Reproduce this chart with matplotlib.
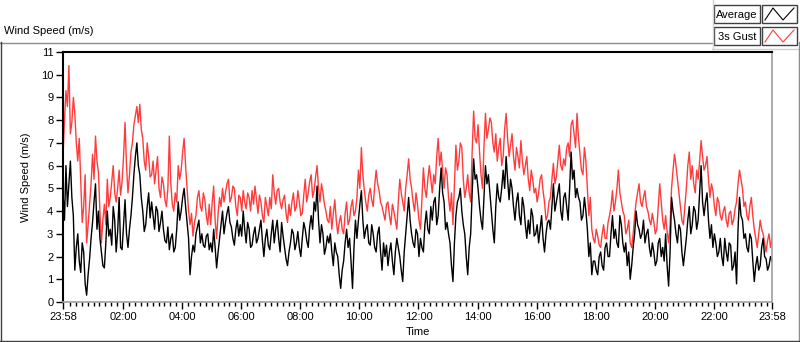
import numpy as np
import matplotlib
matplotlib.use('Agg')
import matplotlib.pyplot as plt
from matplotlib.patches import Rectangle

plt.rcParams['font.family'] = ['Liberation Sans', 'DejaVu Sans']

# 3-minute samples from 23:58 to 23:58 next day (one row per hour)
SAMPLE_MINUTES = 3

GUST = [
    6.4, 8.0, 9.3, 8.6, 10.4, 7.4, 7.9, 9.0, 8.3, 7.0, 6.2, 7.2, 5.4, 3.5, 4.2, 5.6, 2.6, 3.4, 4.3, 5.2,
    6.5, 5.4, 7.3, 6.2, 5.7, 4.0, 2.6, 3.6, 4.3, 3.4, 5.4, 4.2, 4.6, 5.3, 6.0, 4.8, 4.4, 5.0, 5.8, 4.7,
    5.3, 6.4, 7.9, 6.0, 4.8, 5.6, 6.6, 7.0, 7.8, 8.2, 8.6, 7.9, 8.7, 7.6, 7.2, 6.2, 5.8, 7.0, 6.4, 5.5,
    5.6, 6.2, 5.2, 5.8, 6.4, 5.0, 4.6, 5.5, 5.2, 4.5, 4.2, 5.0, 7.3, 5.2, 4.3, 4.0, 4.8, 4.4, 6.0, 5.4,
    5.8, 6.6, 7.2, 6.0, 5.0, 4.0, 3.4, 3.9, 2.9, 3.5, 3.8, 4.6, 4.9, 4.2, 4.0, 4.8, 4.5, 3.8, 3.4, 4.3,
    3.4, 4.4, 5.1, 3.6, 2.8, 3.9, 4.6, 4.2, 5.0, 4.4, 4.8, 5.2, 5.4, 4.4, 4.6, 5.1, 5.0, 4.2, 3.8, 4.7,
    4.6, 4.0, 4.9, 4.4, 4.1, 4.8, 4.6, 4.0, 4.9, 4.3, 5.1, 4.5, 3.9, 4.7, 4.4, 3.8, 3.5, 4.6, 4.2, 3.8,
    4.6, 4.1, 5.6, 4.8, 4.3, 4.9, 5.0, 4.4, 4.1, 4.5, 4.7, 3.9, 3.5, 4.3, 3.8, 4.4, 4.8, 4.0, 4.2, 4.9,
    4.4, 3.8, 3.9, 4.7, 5.4, 4.4, 4.8, 5.3, 5.6, 4.6, 4.9, 5.5, 6.0, 5.0, 4.4, 5.2, 4.8, 4.3, 4.0, 3.6,
    3.5, 4.2, 3.2, 3.9, 4.5, 3.6, 3.0, 3.5, 3.8, 3.2, 3.0, 3.9, 4.4, 3.4, 3.6, 4.2, 4.5, 3.8, 4.0, 4.6,
    5.8, 5.0, 6.8, 5.6, 4.9, 4.4, 4.0, 4.7, 5.0, 4.5, 4.2, 5.1, 5.8, 5.2, 4.9, 4.4, 4.2, 3.9, 3.6, 4.3,
    4.4, 3.8, 3.4, 4.3, 4.0, 3.6, 3.2, 4.4, 5.4, 4.8, 4.4, 4.0, 5.0, 5.6, 6.3, 5.4, 5.0, 4.4, 4.0, 4.8,
    4.3, 3.6, 3.2, 4.6, 5.9, 5.0, 4.6, 5.4, 6.0, 5.4, 4.8, 5.6, 5.2, 6.4, 7.2, 6.0, 6.6, 5.8, 5.0, 5.9,
    5.6, 4.6, 4.0, 4.8, 3.4, 5.2, 6.9, 5.8, 6.2, 7.0, 6.8, 5.4, 4.6, 5.0, 5.6, 4.8, 4.4, 6.6, 8.4, 7.2,
    7.0, 7.8, 6.6, 5.6, 5.0, 6.8, 8.3, 7.2, 7.6, 8.1, 7.9, 7.0, 6.6, 7.4, 6.2, 6.8, 7.2, 6.0, 6.4, 7.6,
    8.3, 7.2, 6.4, 6.9, 7.4, 6.4, 5.8, 6.8, 6.4, 5.9, 7.1, 6.2, 5.6, 6.0, 6.4, 5.4, 4.9, 5.8, 5.4, 4.8,
    5.0, 4.4, 4.8, 5.4, 5.6, 4.9, 4.4, 3.6, 3.8, 4.4, 4.6, 5.4, 6.1, 5.2, 5.5, 6.2, 6.9, 6.0, 5.8, 6.3,
    6.0, 6.8, 7.0, 6.4, 7.8, 8.0, 7.4, 6.8, 8.3, 7.2, 6.5, 5.8, 5.6, 6.8, 6.2, 5.0, 3.8, 4.6, 3.2, 2.8,
    2.6, 3.2, 2.9, 2.5, 2.4, 3.0, 3.4, 2.8, 2.8, 3.5, 3.8, 4.2, 4.9, 4.0, 4.4, 5.0, 5.8, 4.8, 4.4, 4.0,
    3.8, 3.0, 3.2, 3.6, 2.6, 2.4, 3.0, 3.8, 4.4, 4.8, 5.2, 4.4, 4.2, 4.6, 4.9, 4.2, 4.0, 3.6, 3.4, 3.9,
    3.5, 3.0, 3.2, 4.2, 5.2, 4.4, 3.6, 3.2, 3.8, 3.1, 2.6, 3.4, 5.0, 5.8, 6.5, 6.0, 5.4, 4.8, 4.2, 3.6,
    3.4, 4.2, 5.0, 6.0, 6.6, 5.4, 6.0, 5.2, 4.8, 5.8, 5.4, 6.2, 7.1, 6.4, 5.8, 6.0, 6.4, 5.4, 4.6, 5.2,
    4.9, 4.2, 3.8, 4.6, 4.4, 3.8, 3.6, 4.0, 4.2, 3.6, 3.3, 3.9, 4.0, 3.4, 3.6, 4.1, 4.4, 5.2, 5.8, 5.4,
    5.0, 4.2, 4.4, 3.8, 3.6, 4.2, 4.6, 3.8, 3.2, 2.8, 2.4, 3.0, 3.6, 3.2, 3.0, 2.6, 2.2, 2.7, 3.0, 2.4,
    2.8,
]

AVERAGE = [
    4.8, 3.6, 6.0, 4.2, 5.2, 6.2, 4.6, 3.8, 1.4, 2.4, 3.0, 1.8, 1.3, 2.6, 2.2, 0.8, 0.3, 1.2, 1.9, 2.8,
    3.5, 4.4, 5.2, 3.2, 4.0, 2.8, 2.2, 1.6, 1.5, 2.6, 4.0, 2.9, 3.2, 2.5, 4.2, 3.6, 2.2, 3.1, 4.6, 2.4,
    2.3, 3.4, 4.5, 3.0, 2.4, 3.2, 3.8, 4.6, 5.6, 6.4, 7.0, 6.0, 5.6, 4.6, 4.0, 3.1, 3.4, 4.2, 4.8, 3.7,
    4.4, 3.8, 3.2, 4.2, 4.0, 3.1, 3.5, 4.0, 3.2, 2.7, 2.6, 3.3, 2.3, 2.8, 3.0, 2.2, 2.4, 3.2, 4.4, 3.6,
    4.0, 4.6, 5.0, 4.2, 3.5, 2.8, 1.2, 2.0, 2.5, 2.2, 3.0, 3.3, 3.6, 2.6, 3.0, 2.5, 2.4, 2.9, 3.0, 2.3,
    2.6, 2.2, 3.2, 2.4, 1.5, 2.2, 2.8, 3.4, 4.0, 3.0, 3.5, 3.9, 4.2, 3.5, 3.3, 2.8, 2.5, 3.2, 3.6, 2.9,
    3.4, 2.9, 4.0, 3.2, 2.6, 3.5, 3.2, 2.4, 2.5, 3.0, 3.3, 2.6, 2.8, 3.2, 3.6, 2.7, 2.0, 2.8, 3.2, 2.5,
    2.3, 3.0, 3.6, 2.6, 3.2, 3.6, 2.8, 2.2, 3.5, 2.9, 2.4, 1.9, 1.6, 2.2, 2.6, 3.2, 3.0, 2.3, 2.6, 3.1,
    2.4, 2.0, 2.8, 3.5, 3.2, 2.7, 2.4, 3.3, 3.8, 3.2, 4.4, 4.0, 5.1, 3.6, 2.6, 3.4, 3.0, 2.1, 2.4, 2.9,
    2.6, 3.0, 2.2, 1.6, 2.6, 2.2, 2.0, 1.2, 0.6, 1.4, 1.8, 2.6, 3.2, 2.4, 2.8, 1.8, 0.6, 2.4, 3.6, 2.8,
    3.6, 4.3, 4.9, 3.6, 2.8, 3.2, 3.4, 2.6, 2.5, 3.4, 3.0, 2.4, 2.2, 3.0, 3.3, 2.2, 1.4, 2.6, 2.0, 2.5,
    1.6, 2.2, 2.6, 1.8, 1.2, 2.2, 2.8, 2.4, 2.0, 1.4, 0.9, 2.2, 3.0, 3.8, 4.6, 3.6, 3.0, 2.6, 2.4, 3.2,
    3.0, 2.0, 2.8, 2.4, 2.2, 3.4, 4.0, 3.2, 3.0, 4.2, 3.6, 4.4, 4.6, 3.4, 3.8, 5.0, 5.9, 4.8, 4.4, 3.2,
    3.5, 3.0, 2.6, 1.6, 0.9, 2.6, 3.8, 4.4, 4.6, 5.0, 4.0, 3.4, 3.0, 2.0, 1.2, 2.4, 3.0, 4.8, 6.3, 5.4,
    5.6, 5.0, 4.2, 3.6, 3.2, 4.6, 6.0, 5.2, 5.6, 4.8, 4.0, 3.2, 2.6, 4.2, 5.2, 4.6, 4.4, 5.0, 5.8, 5.0,
    6.4, 5.4, 4.5, 5.4, 5.0, 4.2, 3.6, 4.4, 4.8, 3.8, 3.4, 4.6, 4.2, 3.4, 2.8, 3.6, 3.0, 4.1, 3.8, 2.9,
    3.0, 3.4, 2.6, 3.2, 3.8, 2.8, 2.2, 3.0, 3.5, 3.6, 3.2, 4.2, 5.2, 4.0, 4.4, 4.8, 5.2, 4.0, 3.6, 4.6,
    4.8, 4.2, 3.6, 5.0, 6.6, 5.4, 5.8, 4.6, 5.0, 4.6, 4.4, 3.6, 3.8, 4.6, 4.0, 3.2, 2.0, 2.6, 1.2, 1.8,
    1.8, 1.4, 1.2, 2.0, 2.2, 1.6, 1.4, 2.4, 2.6, 2.0, 2.0, 3.0, 3.8, 2.8, 3.2, 2.6, 2.4, 3.8, 3.4, 2.6,
    2.2, 2.6, 1.6, 2.2, 1.0, 1.6, 2.4, 3.0, 4.0, 3.4, 3.2, 2.8, 3.0, 3.6, 2.6, 3.0, 3.2, 2.4, 2.0, 2.6,
    2.2, 1.6, 1.8, 2.6, 2.8, 2.0, 2.4, 1.8, 3.0, 1.6, 0.7, 2.2, 4.6, 4.0, 3.6, 3.0, 2.6, 3.4, 3.2, 2.2,
    1.6, 2.2, 2.8, 3.6, 4.2, 3.0, 3.4, 4.2, 4.0, 3.2, 3.6, 4.8, 6.0, 4.4, 3.8, 4.4, 4.8, 3.6, 2.8, 3.4,
    2.4, 3.0, 2.6, 2.0, 2.2, 2.8, 2.0, 1.6, 2.8, 2.2, 1.8, 2.6, 2.5, 1.4, 1.6, 2.2, 0.8, 3.2, 4.6, 3.8,
    3.6, 2.8, 3.0, 2.4, 2.2, 3.0, 2.8, 1.8, 0.9, 1.6, 2.0, 1.4, 1.6, 2.4, 2.8, 2.0, 1.9, 1.4, 1.6, 2.0,
    1.8,
]

TICK_MINUTES = [0, 122, 242, 362, 482, 602, 722, 842, 962, 1082, 1202, 1322, 1440]
TICK_LABELS = ['23:58', '02:00', '04:00', '06:00', '08:00', '10:00', '12:00',
               '14:00', '16:00', '18:00', '20:00', '22:00', '23:58']

W, H = 800, 342
fig = plt.figure(figsize=(W / 100, H / 100), dpi=100, facecolor='white')

# frame and legend, drawn in pixel coordinates
ov = fig.add_axes([0, 0, 1, 1])
ov.set_xlim(0, W)
ov.set_ylim(H, 0)
ov.axis('off')
ov.plot([0, 712], [42.5, 42.5], color='#8c8c8c', lw=1)
ov.plot([712.5, 712.5], [0, 49], color='#d0d0d0', lw=1)
ov.plot([712, 798], [48.5, 48.5], color='#d0d0d0', lw=1)
ov.plot([798.5, 798.5], [42, 341], color='#8c8c8c', lw=1)
ov.plot([0.5, 0.5], [42, 341], color='#404040', lw=1)
ov.plot([0, 799], [340.5, 340.5], color='#404040', lw=1)
ov.text(4, 31, 'Wind Speed (m/s)', fontsize=8, va='center', ha='left')

for y0, name, col in [(5, 'Average', 'black'), (27, '3s Gust', '#ff3c3c')]:
    ov.add_patch(Rectangle((714, y0), 46, 18, fc='white', ec='#404040', lw=1))
    ov.text(737, y0 + 9.5, name, fontsize=8, ha='center', va='center')
    ov.add_patch(Rectangle((762, y0), 35, 18, fc='white', ec='#404040', lw=1))
    ov.plot([765, 773, 783, 794], [y0 + 15, y0 + 3, y0 + 15, y0 + 3], color=col, lw=0.8)

ax = fig.add_axes([63 / W, 1 - 302 / H, (772 - 63) / W, (302 - 52) / H])
t = np.arange(len(GUST)) * SAMPLE_MINUTES
ax.plot(t, GUST, color='#ff3c3c', lw=1)
ax.plot(t, AVERAGE, color='black', lw=1)
ax.set_xlim(0, 1440)
ax.set_ylim(0, 11)

ax.set_xticks(TICK_MINUTES)
ax.set_xticklabels(TICK_LABELS)
ax.set_xticks(np.arange(14, 1440, 12), minor=True)
ax.set_yticks(range(12))
ax.tick_params(axis='both', which='major', direction='out', length=5, width=1,
               labelsize=8, pad=2)
ax.tick_params(axis='x', which='minor', direction='out', length=3, width=1)

for s in ['top', 'left']:
    ax.spines[s].set_color('black')
    ax.spines[s].set_linewidth(1.5)
for s in ['right', 'bottom']:
    ax.spines[s].set_color('#a0a0a0')
    ax.spines[s].set_linewidth(1.2)

ax.set_ylabel('Wind Speed (m/s)', fontsize=8)
ax.yaxis.set_label_coords(-(63 - 31) / 709, 0.5)
ax.set_xlabel('Time', fontsize=8)
ax.xaxis.set_label_coords(0.5, -(327 - 302) / 250)

fig.savefig('out.png', dpi=100, facecolor='white')
